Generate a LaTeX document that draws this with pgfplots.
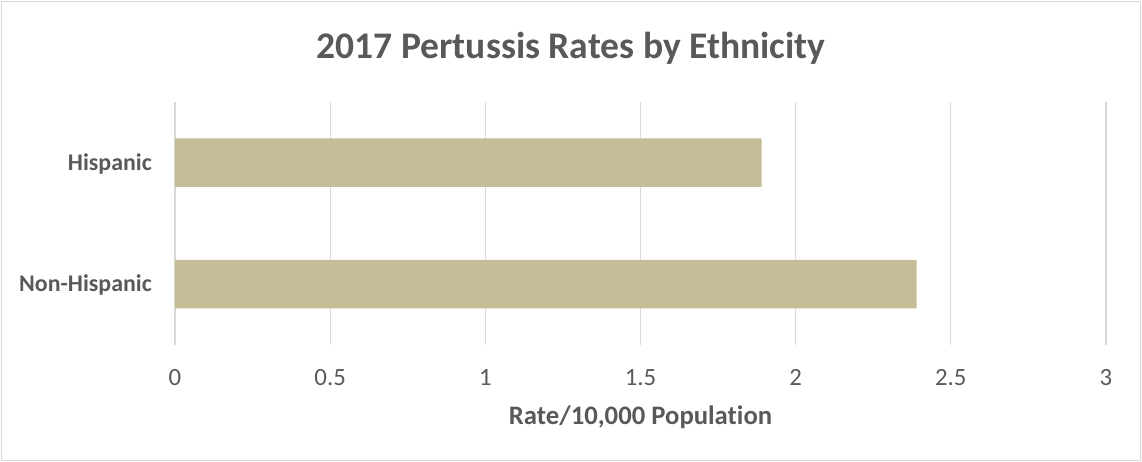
\documentclass[border=0pt]{standalone}
\usepackage{pgfplots}
\pgfplotsset{compat=1.18}
\usepackage{fontspec}
\setmainfont[Ligatures=NoCommon]{Carlito}
\definecolor{bartan}{HTML}{C4BD97}
\definecolor{gridgray}{HTML}{D9D9D9}
\definecolor{txtgray}{HTML}{595959}
\definecolor{framegray}{HTML}{D9D9D9}
\begin{document}
\begin{tikzpicture}
\path (-175bp,-117bp) rectangle (967bp,345bp);
\draw[framegray, line width=1.2bp] (-173.5bp,-115.5bp) rectangle (965.5bp,343.2bp);
\node[anchor=base, text=txtgray, font=\fontsize{37.7}{40}\selectfont\bfseries, inner sep=0] at (396bp,286bp) {2017 Pertussis Rates by Ethnicity};
\begin{axis}[
  at={(0,0)}, anchor=south west,
  scale only axis, width=931bp, height=243.3bp,
  xbar, xmin=0, xmax=3, ymin=-0.5, ymax=1.5,
  xtick={0,0.5,1,1.5,2,2.5,3},
  xticklabels={0,0.5,1,1.5,2,2.5,3},
  ytick={0,1},
  yticklabels={Non-Hispanic,Hispanic\hspace{5bp}},
  bar width=48.5bp,
  xmajorgrids, grid style={color=gridgray, line width=1.2bp},
  axis line style={draw=none},
  major tick length=0,
  tick style={draw=none},
  xticklabel style={anchor=base, yshift=-40bp, inner sep=0, text=txtgray, font=\fontsize{24.9}{26}\selectfont},
  yticklabel style={anchor=base east, xshift=-23bp, yshift=-7.7bp, inner sep=0, text=txtgray, font=\fontsize{24}{26}\selectfont\bfseries},
  xlabel={Rate/10,000 Population},
  xlabel style={at={(axis description cs:0.5,0)}, anchor=base, yshift=-79.5bp, inner sep=0, text=txtgray, font=\fontsize{26.8}{29}\selectfont\bfseries},
  /pgf/number format/assume math mode=true,
]
\addplot[draw=none, fill=bartan] coordinates {(2.39,0) (1.89,1)};
\end{axis}
\end{tikzpicture}
\end{document}
